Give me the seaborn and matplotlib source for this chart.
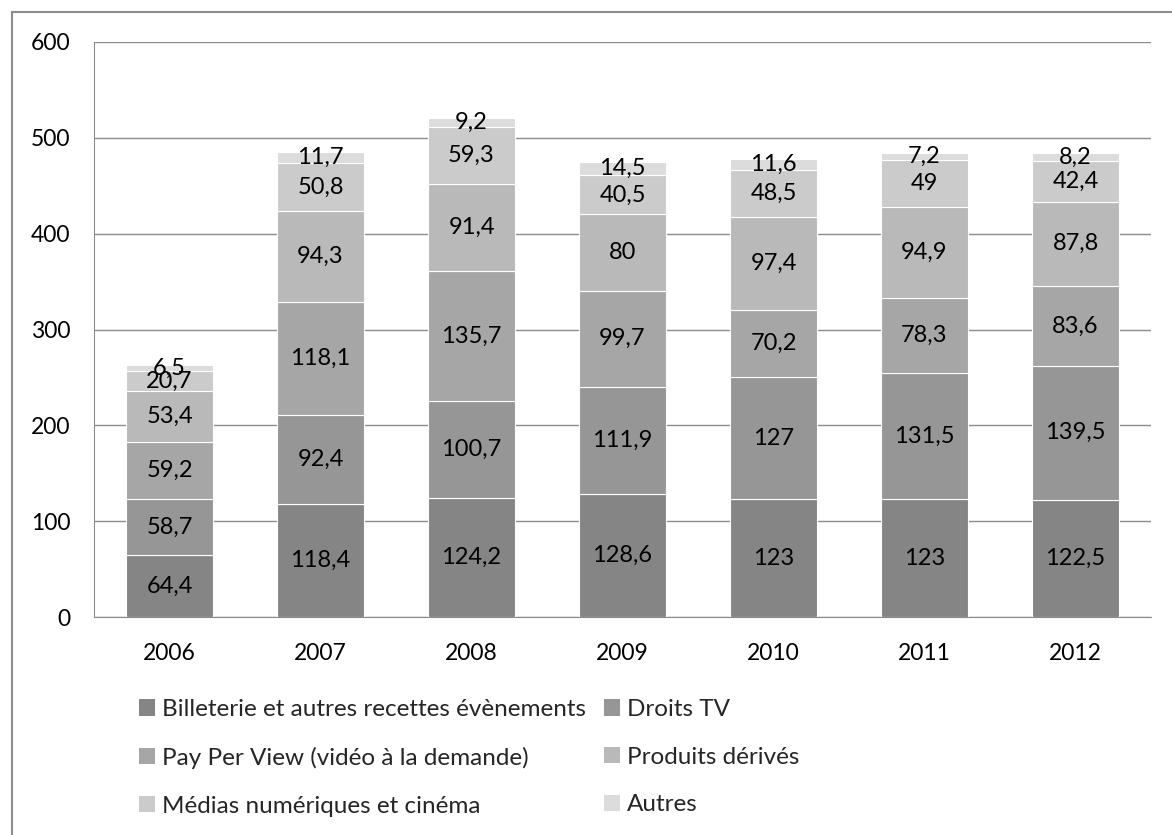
import numpy as np
import matplotlib
matplotlib.use('Agg')
import matplotlib.pyplot as plt
import seaborn as sns
from matplotlib.patches import Patch
from matplotlib.lines import Line2D

years = ['2006', '2007', '2008', '2009', '2010', '2011', '2012']
series_names = ['Billeterie et autres recettes évènements', 'Droits TV',
                'Pay Per View (vidéo à la demande)', 'Produits dérivés',
                'Médias numériques et cinéma', 'Autres']
billeterie = [64.4, 118.4, 124.2, 128.6, 123, 123, 122.5]
droits_tv = [58.7, 92.4, 100.7, 111.9, 127, 131.5, 139.5]
pay_per_view = [59.2, 118.1, 135.7, 99.7, 70.2, 78.3, 83.6]
produits = [53.4, 94.3, 91.4, 80, 97.4, 94.9, 87.8]
medias = [20.7, 50.8, 59.3, 40.5, 48.5, 49, 42.4]
autres = [6.5, 11.7, 9.2, 14.5, 11.6, 7.2, 8.2]
colors = ['#858585', '#969696', '#a6a6a6', '#b9b9b9', '#cbcbcb', '#dcdcdc']

sns.set_style('white')
plt.rcParams['font.family'] = ['Lato', 'DejaVu Sans']

W, H = 1172, 835
fig = plt.figure(figsize=(W / 100, H / 100), dpi=100)
ax = fig.add_axes([94 / W, 1 - 617 / H, (1151 - 94) / W, (617 - 42) / H])

layers = [billeterie, droits_tv, pay_per_view, produits, medias, autres]
bottom = np.zeros(len(years))
for vals, col in zip(layers, colors):
    sns.barplot(x=years, y=vals, bottom=bottom, color=col, width=0.57,
                edgecolor='white', linewidth=0.8, ax=ax, zorder=3)
    cont = ax.containers[-1]
    labels = [('%g' % v).replace('.', ',') for v in vals]
    ax.bar_label(cont, labels=labels, label_type='center', fontsize=17,
                 color='black', zorder=4)
    bottom = bottom + np.array(vals)

ax.set_ylim(0, 600)
ax.set_yticks(range(0, 601, 100))
ax.set_xlim(-0.5, len(years) - 0.5)
ax.yaxis.grid(True, color='#8c8c8c', linewidth=1)
ax.set_axisbelow(True)
for s in ['top', 'right']:
    ax.spines[s].set_visible(False)
ax.spines['bottom'].set_color('#8c8c8c')
ax.spines['left'].set_color('#8c8c8c')
ax.tick_params(axis='both', labelsize=16.5, length=0, colors='black')
ax.tick_params(axis='x', pad=19)
ax.tick_params(axis='y', pad=17)

handles = [Patch(facecolor=c, edgecolor='none') for c in colors]
leg_kw = dict(loc='upper left', frameon=False, fontsize=17.5, handlelength=0.66,
              handleheight=0.66, handletextpad=0.3, labelspacing=1.1,
              borderaxespad=0, borderpad=0)
leg1 = fig.legend([handles[i] for i in (0, 2, 4)], [series_names[i] for i in (0, 2, 4)],
                  bbox_to_anchor=(139 / W, 1 - 699 / H), **leg_kw)
leg2 = fig.legend([handles[i] for i in (1, 3, 5)], [series_names[i] for i in (1, 3, 5)],
                  bbox_to_anchor=(604 / W, 1 - 699 / H), **leg_kw)

# outer frame (cut on the right and bottom)
fig.add_artist(Line2D([12 / W, 12 / W], [0, 1 - 12 / H], transform=fig.transFigure,
                      color='#8c8c8c', linewidth=1.5))
fig.add_artist(Line2D([12 / W, 1], [1 - 12 / H, 1 - 12 / H], transform=fig.transFigure,
                      color='#8c8c8c', linewidth=1.5))

plt.savefig('out.png', dpi=100)
